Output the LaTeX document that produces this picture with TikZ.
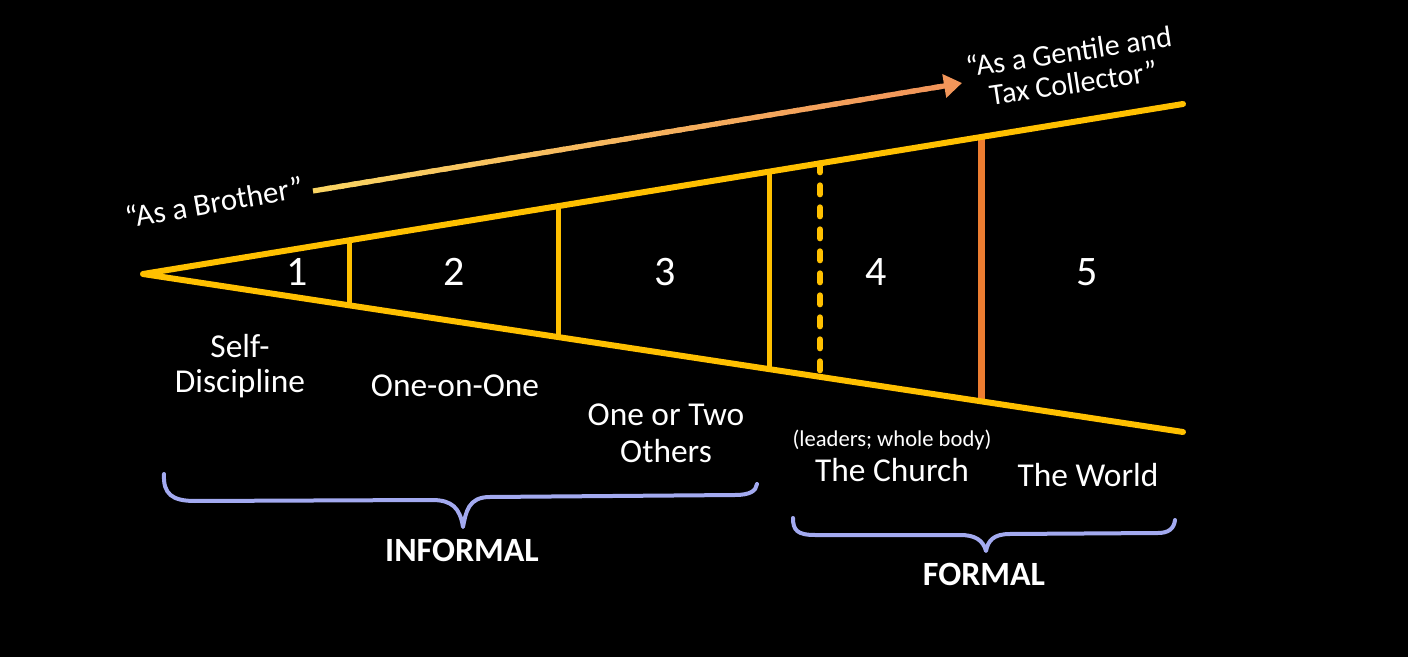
\documentclass[tikz,border=0pt]{standalone}
\usepackage{fontspec}
\setmainfont{Carlito}
\usetikzlibrary{arrows.meta,calc}
\definecolor{gold}{HTML}{FFC000}
\definecolor{orng}{HTML}{ED7D31}
\definecolor{lav}{HTML}{A3AAF0}
\definecolor{arA}{HTML}{FAD563}
\definecolor{arB}{HTML}{F2965A}
\begin{document}
\begin{tikzpicture}[x=0.5pt,y=-0.5pt,
  edge/.style={gold,line width=3pt,line cap=round,line join=round},
  divider/.style={gold,line width=2.5pt},
  lbl/.style={text=white,font=\fontsize{16.7}{17.5}\selectfont,align=center,inner sep=0pt},
  small/.style={text=white,font=\fontsize{11.3}{13}\selectfont,inner sep=0pt},
  num/.style={text=white,font=\fontsize{21}{24}\selectfont,inner sep=0pt},
  brace/.style={lav,line width=2pt,line cap=round,line join=round},
  big/.style={text=white,font=\bfseries\fontsize{17}{19}\selectfont,inner sep=0pt}]
\fill[black] (0,0) rectangle (1408,657);
\useasboundingbox (0,0) rectangle (1408,657);

% funnel
\coordinate (A) at (143,274);
\coordinate (U) at (1183,104);
\coordinate (L) at (1183,432);
\foreach \n/\t in {1/0.19808,2/0.39904,3/0.60288,4/0.65096,5/0.80577}{
  \coordinate (u\n) at ($(A)!\t!(U)$);
  \coordinate (l\n) at ($(A)!\t!(L)$);
}
\draw[divider] (u1) -- (l1);
\draw[divider] (u2) -- (l2);
\draw[divider] (u3) -- (l3);
\draw[gold,line width=3pt,line cap=round,dash pattern=on 4.5pt off 6.5pt] (u4) -- (l4);
\draw[orng,line width=3.5pt] (u5) -- (l5);
\draw[edge] (U) -- (A) -- (L);

% numbers
\node[num] (n1) at (297,272) {1};
\node[num] (n2) at (454,272) {2};
\node[num] (n3) at (665,272) {3};
\node[num] (n4) at (876,272) {4};
\node[num] (n5) at (1087,272) {5};

% gradient arrow
\coordinate (s) at (313,191);
\coordinate (e) at (962,83);
\foreach \i in {0,...,47}{
  \pgfmathsetmacro\ta{\i/50}
  \pgfmathsetmacro\tb{(\i+1.4)/50}
  \pgfmathtruncatemacro\pc{100-\i*100/47}
  \draw[line width=2.6pt,arA!\pc!arB] ($(s)!\ta!(e)$) -- ($(s)!\tb!(e)$);
}
\draw[arB,line width=2.6pt,-{Triangle[length=9pt,width=11.5pt]}] ($(s)!0.955!(e)$) -- (e);

\node[lbl,rotate=10,font=\fontsize{15.5}{17}\selectfont] (bro) at (214,202) {“As a Brother”};
\node[lbl,rotate=8.5,font=\fontsize{15}{15.8}\selectfont] (gen) at (1071,67) {“As a Gentile and\\Tax Collector”};

% labels
\node[lbl] (self) at (240,366) {Self-\\Discipline};
\node[lbl] (one) at (455,386) {One-on-One};
\node[lbl,font=\fontsize{16.7}{18.5}\selectfont] (two) at (666,433) {One or Two\\Others};
\node[small] (lead) at (892,440) {(leaders; whole body)};
\node[lbl] (church) at (892,470) {The Church};
\node[lbl] (world) at (1088,475) {The World};

% braces
\draw[brace] (164,474) .. controls (163,494) and (172,501) .. (195,501)
  -- (432,500) .. controls (452,500) and (460,508) .. (463,527)
  .. controls (466,512) and (468,497) .. (490,497)
  -- (735,495) .. controls (750,495) and (756,491) .. (757,484);
\draw[brace] (793,518) .. controls (793,530) and (797,535) .. (815,535)
  -- (960,535) .. controls (975,535) and (983,540) .. (986,551)
  .. controls (988,541) and (993,534) .. (1010,534)
  -- (1158,533) .. controls (1168,533) and (1174,529) .. (1175,520);
\node[big] (inf) at (462,550) {INFORMAL};
\node[big] (form) at (984,574) {FORMAL};
\end{tikzpicture}
\end{document}
